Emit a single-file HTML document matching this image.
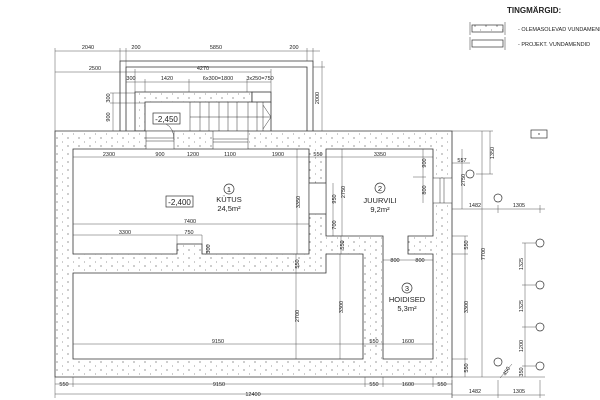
<!DOCTYPE html>
<html><head><meta charset="utf-8"><style>
html,body{margin:0;padding:0;background:#fff}
svg{display:block}
text{font-family:"Liberation Sans",sans-serif;fill:#222}
</style></head><body>
<svg width="600" height="400" viewBox="0 0 600 400" xmlns="http://www.w3.org/2000/svg">
<defs>
<pattern id="d" width="11" height="8" patternUnits="userSpaceOnUse">
<rect width="11" height="8" fill="#fff"/>
<circle cx="2" cy="2" r="0.6" fill="#555"/><circle cx="7.5" cy="6" r="0.5" fill="#777"/>
</pattern>
</defs>
<g stroke="#333" stroke-width="0.8" fill="none">
<path d="M120 131V61H313V131" />
<path d="M126 131V67H307V131" />
<path d="M135 131V92H252V102H145V131Z" fill="url(#d)"/>
<rect x="252" y="92" width="19" height="10" fill="#fff"/>
<path d="M271 102V131" />
<g stroke-width="0.5">
<path d="M190 102V131M200 102V131M209 102V131M219 102V131M228 102V131M237 102V131M248 102V131M257 102V131M263 102V131"/>
<path d="M190 117H271M263 105L271 117L263 129"/>
</g>
<path fill="url(#d)" fill-rule="evenodd" d="M55 131H452V377H55Z
M73 149H309V254H202V244H177V254H73Z
M326 149H433V236H408V254H433V359H383V236H326Z
M73 273H326V254H363V359H73Z"/>
<rect x="309.4" y="183" width="16.2" height="31" fill="#fff" stroke="none"/>
<path d="M309 183H326M309 214H326"/>
<rect x="146" y="131.4" width="28" height="17.2" fill="#fff" stroke="none"/>
<path d="M146 131V149M174 131V149M146 138H174M146 141H174" stroke-width="0.5"/>
<rect x="213" y="131.4" width="35" height="17.2" fill="#fff" stroke="none"/>
<path d="M213 131V149M248 131V149M213 139H248M213 142H248" stroke-width="0.5"/>
<rect x="433.4" y="178" width="18.2" height="25" fill="#fff" stroke="none"/>
<path d="M433 178H452M433 203H452M440 178V203M444 178V203" stroke-width="0.5"/>
<path d="M166 124Q174 128 174 140" stroke-width="0.5"/>
</g>
<rect x="153" y="113" width="27" height="11" fill="#fff" stroke="#333" stroke-width="0.7"/>
<text x="166.5" y="122" font-size="8" text-anchor="middle">-2,450</text>
<rect x="166" y="196" width="27" height="11" fill="#fff" stroke="#333" stroke-width="0.7"/>
<text x="179.5" y="205" font-size="8" text-anchor="middle">-2,400</text>

<g stroke="#444" stroke-width="0.45" fill="none">
<path d="M55 51H320M55 48V131M120 48V61M126 48V67M307 48V61M313 48V61"/>
<path d="M55 72H271M135 69V92M271 69V92"/>
<path d="M126 82H271M145 79V92M189 79V92M247 79V92"/>
<path d="M113 93V131M110 93H135M110 103H145"/>
<path d="M322 61V131M313 67H325"/>
<path d="M73 157H433"/>
<path d="M423 149V203M413 177H426"/>
<path d="M452 163H470M490 131V174M452 131H493M476 174H493"/>
<path d="M297 149V254M342 149V236M333 183V236M341 236V254"/>
<path d="M462 149V209"/>
<path d="M452 209H545M498 205V213M540 205V213"/>
<path d="M465 236V377M452 236H468M452 254H468M452 359H468"/>
<path d="M482 131V377M452 377H545"/>
<path d="M525 243V377M522 243H540M522 285H540M522 327H540M522 366H540"/>
<path d="M452 395H545M498 380V398M540 380V398M452 380V398"/>
<path d="M55 384H452M55 394H452M55 377V398M73 377V387M365 377V387M383 377V387M433 377V387M452 377V398"/>
<path d="M73 224H309M73 235H202M177 235V244M202 235V244M207 244V254"/>
<path d="M73 344H365M296 273V359M340 254V359M365 344H433M383 260H433"/>
<path d="M296 254V273"/>
<path d="M500 378L512 364"/>
</g>
<g font-size="5.5" text-anchor="middle">
<text x="88" y="49">2040</text><text x="136" y="49">200</text><text x="216" y="49">5850</text><text x="294" y="49">200</text>
<text x="95" y="70">2500</text><text x="203" y="70">4270</text>
<text x="131" y="80">300</text><text x="167" y="80">1420</text><text x="218" y="80">6x300=1800</text><text x="260" y="80">3x250=750</text>
<text x="110" y="98" transform="rotate(-90 110 98)">300</text>
<text x="110" y="117" transform="rotate(-90 110 117)">900</text>
<text x="319" y="98" transform="rotate(-90 319 98)">2000</text>
<text x="109" y="156">2300</text><text x="160" y="156">900</text><text x="193" y="156">1200</text><text x="230" y="156">1100</text><text x="278" y="156">1900</text><text x="318" y="156">550</text><text x="380" y="156">3350</text>
<text x="426" y="163" transform="rotate(-90 426 163)">900</text>
<text x="426" y="190" transform="rotate(-90 426 190)">800</text>
<text x="462" y="162">557</text>
<text x="494" y="153" transform="rotate(-90 494 153)">1350</text>
<text x="300" y="202" transform="rotate(-90 300 202)">3350</text>
<text x="345" y="192" transform="rotate(-90 345 192)">2750</text>
<text x="336" y="199" transform="rotate(-90 336 199)">950</text>
<text x="336" y="225" transform="rotate(-90 336 225)">700</text>
<text x="344" y="245" transform="rotate(-90 344 245)">550</text>
<text x="299" y="264" transform="rotate(-90 299 264)">550</text>
<text x="465" y="180" transform="rotate(-90 465 180)">2750</text>
<text x="475" y="207">1482</text><text x="519" y="207">1305</text>
<text x="468" y="245" transform="rotate(-90 468 245)">550</text>
<text x="468" y="307" transform="rotate(-90 468 307)">3300</text>
<text x="468" y="368" transform="rotate(-90 468 368)">550</text>
<text x="485" y="254" transform="rotate(-90 485 254)">7700</text>
<text x="523" y="264" transform="rotate(-90 523 264)">1325</text>
<text x="523" y="306" transform="rotate(-90 523 306)">1325</text>
<text x="523" y="346" transform="rotate(-90 523 346)">1200</text>
<text x="523" y="372" transform="rotate(-90 523 372)">350</text>
<text x="508" y="372" transform="rotate(-60 508 372)">450</text>
<text x="475" y="393">1482</text><text x="519" y="393">1305</text>
<text x="190" y="223">7400</text><text x="125" y="234">3300</text><text x="189" y="234">750</text>
<text x="210" y="249" transform="rotate(-90 210 249)">300</text>
<text x="218" y="343">9150</text><text x="374" y="343">550</text><text x="408" y="343">1600</text>
<text x="299" y="316" transform="rotate(-90 299 316)">2700</text>
<text x="343" y="307" transform="rotate(-90 343 307)">3300</text>
<text x="395" y="262">800</text><text x="420" y="262">800</text>
<text x="64" y="386">550</text><text x="219" y="386">9150</text><text x="374" y="386">550</text><text x="408" y="386">1600</text><text x="442" y="386">550</text>
<text x="253" y="396">12400</text>
</g>
<g stroke="#333" stroke-width="0.7" fill="#fff">
<circle cx="229" cy="189" r="5"/><circle cx="380" cy="188" r="5"/><circle cx="407" cy="288" r="5"/>
</g>
<g font-size="7.5" text-anchor="middle">
<text x="229" y="192">1</text><text x="229" y="202">KÜTUS</text><text x="229" y="211">24,5m²</text>
<text x="380" y="191">2</text><text x="380" y="203">JUURVILI</text><text x="380" y="212">9,2m²</text>
<text x="407" y="291">3</text><text x="407" y="302">HOIDISED</text><text x="407" y="311">5,3m²</text>
</g>
<g stroke="#333" stroke-width="0.7" fill="#fff">
<circle cx="470" cy="174" r="4"/><circle cx="498" cy="198" r="4"/><circle cx="540" cy="243" r="4"/><circle cx="540" cy="285" r="4"/><circle cx="540" cy="327" r="4"/><circle cx="540" cy="366" r="4"/><circle cx="498" cy="362" r="4"/>
</g>
<text x="507" y="13" font-size="8" font-weight="bold">TINGMÄRGID:</text>
<rect x="472" y="25" width="31" height="7" fill="url(#d)" stroke="#333" stroke-width="0.7"/>
<rect x="472" y="40" width="31" height="7" fill="#fff" stroke="#333" stroke-width="0.7"/>
<g stroke="#333" stroke-width="0.5"><path d="M470 22V35M505 22V35M470 37V50M505 37V50"/></g>
<text x="518" y="31" font-size="5.5">- OLEMASOLEVAD VUNDAMENDID</text>
<text x="518" y="46" font-size="5.5">- PROJEKT. VUNDAMENDID</text>
<rect x="531" y="130" width="16" height="8" fill="#fff" stroke="#333" stroke-width="0.7"/>
<circle cx="539" cy="134" r="0.7" fill="#333"/>
</svg>
</body></html>
